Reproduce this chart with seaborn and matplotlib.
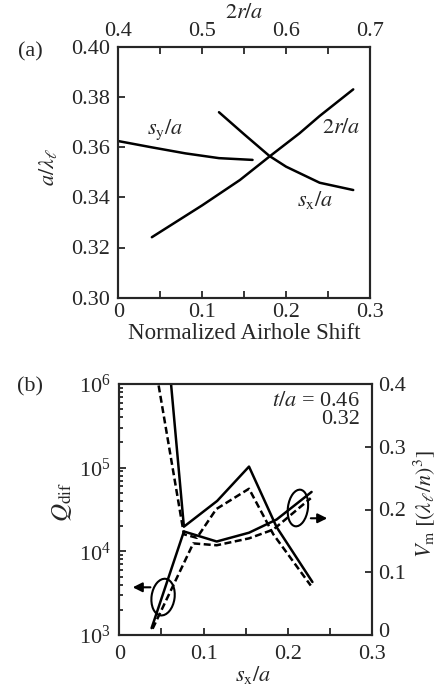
import numpy as np
import pandas as pd
import matplotlib
matplotlib.use("Agg")
import matplotlib.pyplot as plt
import matplotlib.transforms as mtrans
import seaborn as sns
from matplotlib.patches import Ellipse
from matplotlib.ticker import MultipleLocator, LogLocator, NullFormatter

# ---------------- data: panel (a) ----------------
sy_shift = [0.0, 0.04, 0.08, 0.12, 0.16]
sy_freq = [0.3624, 0.3599, 0.3575, 0.3556, 0.3549]

sx_shift = [0.12, 0.15, 0.18, 0.20, 0.24, 0.28]
sx_freq = [0.3739, 0.3651, 0.3565, 0.3522, 0.3458, 0.3429]

r_diam = [0.44, 0.50, 0.545, 0.58, 0.616, 0.64, 0.68]
r_freq = [0.3241, 0.3368, 0.3469, 0.3562, 0.3655, 0.3724, 0.3830]

# ---------------- data: panel (b) ----------------
q_x_046 = [0.0383, 0.0766, 0.1160, 0.1538, 0.1865, 0.2290]
q_046 = [3.8e8, 1.97e4, 4.0e4, 1.03e5, 1.95e4, 4.3e3]
q_x_032 = [0.0383, 0.0766, 0.0920, 0.1150, 0.1538, 0.1826, 0.2270]
q_032 = [3.0e6, 1.6e4, 1.45e4, 3.2e4, 5.6e4, 1.6e4, 3.9e3]

v_x_046 = [0.0383, 0.0766, 0.1155, 0.1538, 0.1865, 0.2280]
v_046 = [0.011, 0.165, 0.149, 0.163, 0.184, 0.228]
v_x_032 = [0.0395, 0.0877, 0.1155, 0.1538, 0.1826, 0.2270]
v_032 = [0.010, 0.146, 0.143, 0.154, 0.168, 0.218]

thickness = ["0.46", "0.32"]

xticks_a = [0, 0.1, 0.2, 0.3]
xlabels_a = ["0", "0.1", "0.2", "0.3"]
yticks_a = [0.30, 0.32, 0.34, 0.36, 0.38, 0.40]
ylabels_a = ["0.30", "0.32", "0.34", "0.36", "0.38", "0.40"]
topticks_a = [0.4, 0.5, 0.6, 0.7]
toplabels_a = ["0.4", "0.5", "0.6", "0.7"]
vticks = [0, 0.1, 0.2, 0.3, 0.4]
vlabels = ["0", "0.1", "0.2", "0.3", "0.4"]

# ---------------- style ----------------
sns.set_style("ticks")
plt.rcParams["font.family"] = ["Liberation Serif", "DejaVu Serif"]
plt.rcParams["mathtext.fontset"] = "stix"
FS = 16
plt.rcParams["font.size"] = FS
LW = 1.8

fig = plt.figure(figsize=(4.39, 6.88), dpi=100)
axA = fig.add_axes([118.3 / 439, (688 - 297.7) / 688, 251.7 / 439, 251 / 688])
axB = fig.add_axes([119.3 / 439, (688 - 635) / 688, 253 / 439, 251 / 688])

# ---------------- panel (a) ----------------
sns.lineplot(x=sy_shift, y=sy_freq, ax=axA, color="k", lw=LW, estimator=None, sort=False)
sns.lineplot(x=sx_shift, y=sx_freq, ax=axA, color="k", lw=LW, estimator=None, sort=False)
axA.set_xlim(0, 0.3)
axA.set_ylim(0.30, 0.40)
axA.set_xticks(xticks_a, xlabels_a)
axA.set_yticks(yticks_a, ylabels_a)
axA.xaxis.set_minor_locator(MultipleLocator(0.05))
axA.tick_params(axis="both", which="both", direction="in", top=False, right=False,
                labelsize=FS, width=1.3)
axA.tick_params(axis="both", which="major", length=5)
axA.tick_params(axis="x", which="minor", length=5)
axA.tick_params(axis="y", pad=6)
axA.tick_params(axis="x", pad=4)

axT = axA.twiny()
sns.lineplot(x=r_diam, y=r_freq, ax=axT, color="k", lw=LW, estimator=None, sort=False)
axT.set_xlim(0.4, 0.7)
axT.set_ylim(0.30, 0.40)
axT.set_xticks(topticks_a, toplabels_a)
axT.xaxis.set_minor_locator(MultipleLocator(0.05))
axT.tick_params(axis="x", which="both", direction="in", length=5, width=1.3,
                labelsize=FS, pad=4)
axT.set_ylabel("")

axA.set_xlabel("Normalized Airhole Shift", fontsize=FS + 0.5)
axA.xaxis.set_label_coords(0.5, -0.141)
axA.xaxis.label.set_va("center")
axA.set_ylabel(r"$a/\lambda_{\ell}$", fontsize=FS)
axA.yaxis.set_label_coords(-0.279, 0.52)
axA.yaxis.label.set_va("center")
axT.set_xlabel(r"$2r/a$", fontsize=FS)
axT.xaxis.set_label_coords(0.5, 1.134)
axT.xaxis.label.set_va("center")

axA.text(0.0556, 0.3668, r"$s_{\rm y}/a$", ha="center", va="center", fontsize=FS)
axA.text(0.266, 0.3675, r"$2r/a$", ha="center", va="center", fontsize=FS)
axA.text(0.234, 0.3389, r"$s_{\rm x}/a$", ha="center", va="center", fontsize=FS)

for ax in (axA, axT):
    for s in ax.spines.values():
        s.set_linewidth(1.5)

# ---------------- panel (b) ----------------
qdf = pd.concat([
    pd.DataFrame({"sx": q_x_046, "Q": q_046, "t": thickness[0]}),
    pd.DataFrame({"sx": q_x_032, "Q": q_032, "t": thickness[1]}),
], ignore_index=True)
vdf = pd.concat([
    pd.DataFrame({"sx": v_x_046, "V": v_046, "t": thickness[0]}),
    pd.DataFrame({"sx": v_x_032, "V": v_032, "t": thickness[1]}),
], ignore_index=True)

dash_map = {thickness[0]: "", thickness[1]: (2.8, 1.4)}

axB.set_yscale("log")
sns.lineplot(data=qdf, x="sx", y="Q", style="t", dashes=dash_map, color="k", lw=LW,
             ax=axB, estimator=None, sort=False, legend=False)
axB.set_xlim(0, 0.3)
axB.set_ylim(1e3, 1e6)
axB.set_xticks(xticks_a, xlabels_a)
axB.xaxis.set_minor_locator(MultipleLocator(0.05))
axB.yaxis.set_major_locator(LogLocator(base=10, numticks=10))
axB.yaxis.set_minor_locator(LogLocator(base=10, subs=np.arange(2, 10), numticks=20))
axB.yaxis.set_minor_formatter(NullFormatter())
axB.tick_params(axis="both", which="both", direction="in", top=False, right=False,
                labelsize=FS, width=1.3)
axB.tick_params(axis="both", which="major", length=5)
axB.tick_params(axis="y", which="minor", length=3)
axB.tick_params(axis="x", which="minor", length=5)
axB.tick_params(axis="y", pad=6)
axB.tick_params(axis="x", pad=7)

axV = axB.twinx()
sns.lineplot(data=vdf, x="sx", y="V", style="t", dashes=dash_map, color="k", lw=LW,
             ax=axV, estimator=None, sort=False, legend=False)
axV.set_ylim(0, 0.4)
axV.set_xlim(0, 0.3)
axV.set_yticks(vticks, vlabels)
axV.tick_params(axis="y", which="both", direction="in", length=5, width=1.3,
                labelsize=FS, pad=4)
# the "0" label sits a little above its tick, as in the reference
shift_up = mtrans.ScaledTranslation(0, 3.5 / 72, fig.dpi_scale_trans)
for lab in axV.get_yticklabels():
    if lab.get_text() == "0":
        lab.set_transform(lab.get_transform() + shift_up)

axB.set_xlabel(r"$s_{\rm x}/a$", fontsize=FS)
axB.xaxis.set_label_coords(0.53, -0.16)
axB.xaxis.label.set_va("center")
axB.set_ylabel(r"$Q_{\rm dif}$", fontsize=FS + 2)
axB.yaxis.set_label_coords(-0.226, 0.53)
axB.yaxis.label.set_va("center")
axV.set_ylabel(r"$V_{\rm m}\;[(\lambda_{\ell}/n)^3]$", fontsize=FS)
axV.yaxis.set_label_coords(1.204, 0.52)
axV.yaxis.label.set_va("center")

axB.text(0.951, 0.932, r"$t/a$ = 0.46", transform=axB.transAxes, ha="right",
         va="center", fontsize=FS)
axB.text(0.951, 0.857, "0.32", transform=axB.transAxes, ha="right",
         va="center", fontsize=FS)

# curve-to-axis markers
axV.add_patch(Ellipse((0.173, 0.151), 0.091, 0.147, angle=-8, fill=False, lw=1.5,
                      ec="k", transform=axB.transAxes, clip_on=False))
axV.add_patch(Ellipse((0.706, 0.506), 0.079, 0.147, angle=-8, fill=False, lw=1.5,
                      ec="k", transform=axB.transAxes, clip_on=False))
axV.annotate("", xy=(0.042, 0.190), xytext=(0.134, 0.190), xycoords=axB.transAxes,
             textcoords=axB.transAxes,
             arrowprops=dict(arrowstyle="-|>", color="k", lw=1.5, mutation_scale=14))
axV.annotate("", xy=(0.833, 0.465), xytext=(0.746, 0.465), xycoords=axB.transAxes,
             textcoords=axB.transAxes,
             arrowprops=dict(arrowstyle="-|>", color="k", lw=1.5, mutation_scale=14))

for ax in (axB, axV):
    for s in ax.spines.values():
        s.set_linewidth(1.5)

fig.text(30 / 439, 1 - 52 / 688, "(a)", ha="center", va="center", fontsize=FS)
fig.text(30 / 439, 1 - 387 / 688, "(b)", ha="center", va="center", fontsize=FS)

fig.savefig("out.png", dpi=100)
